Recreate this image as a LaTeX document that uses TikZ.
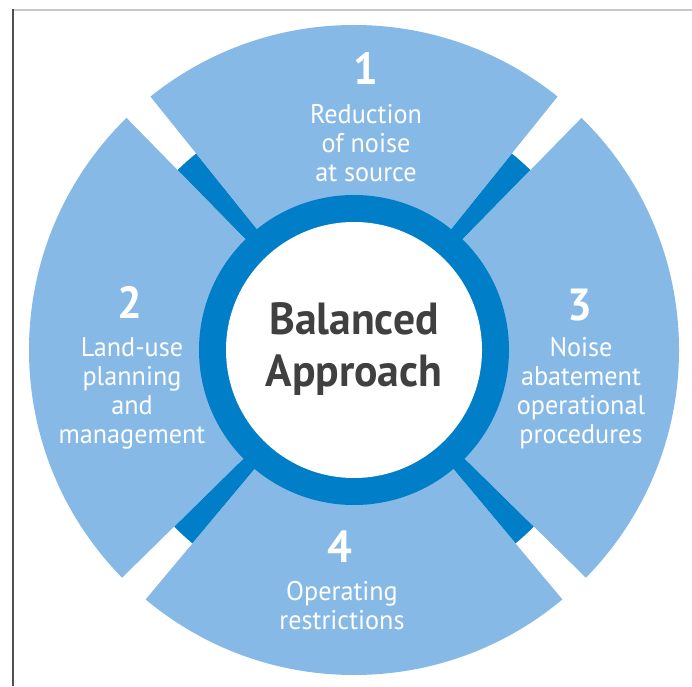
\documentclass[tikz,border=0pt]{standalone}
\usepackage{fontspec}
\newfontfamily\labfont[FakeStretch=0.97]{PT Sans}
\definecolor{petal}{RGB}{134,185,230}
\definecolor{ringblue}{RGB}{0,126,199}
\definecolor{ctext}{RGB}{64,64,64}
\definecolor{topline}{RGB}{200,200,200}
\definecolor{sideline}{RGB}{80,80,80}
\begin{document}
\begin{tikzpicture}[x=1pt,y=1pt,
  num/.style={text=white, font=\labfont\bfseries\fontsize{45}{45}\selectfont, inner sep=0pt},
  lab/.style={text=white, font=\labfont\fontsize{27}{29}\selectfont, align=center, inner sep=0pt},
  ctr/.style={text=ctext, font=\labfont\bfseries\fontsize{45}{52}\selectfont, align=center, inner sep=0pt}]
\useasboundingbox (0,0) rectangle (692,686);
\fill[white] (0,0) rectangle (692,686);
\draw[topline, line width=1.5pt] (12,676) -- (692,676);
\draw[sideline, line width=2pt] (12.5,677) -- (12.5,0);
\coordinate (c) at (354,336);
\fill[petal] (c) circle[radius=325];
\foreach \a in {48.4,131.6,227.3,312.7}{
  \pgfmathsetmacro{\lo}{\a-2.8}
  \pgfmathsetmacro{\hi}{\a+2.8}
  \fill[white] (c) -- ++(\lo:340) arc[start angle=\lo, end angle=\hi, radius=340] -- cycle;
  \fill[ringblue] (c) -- ++(\lo:252) arc[start angle=\lo, end angle=\hi, radius=252] -- cycle;
}
\fill[ringblue] (c) circle[radius=155];
\fill[white] (c) circle[radius=128];
\node[num] (n1) at (366,618) {1};
\node[lab] (t1) at (366,542.5) {Reduction\\of noise\\at source};
\node[num] (n2) at (130,384) {2};
\node[lab] (t2) at (132,292.5) {Land-use\\planning\\and\\management};
\node[num] (n3) at (580,381) {3};
\node[lab] (t3) at (581,292.5) {Noise\\abatement\\operational\\procedures};
\node[num] (n4) at (340,139) {4};
\node[lab] (t4) at (342,80) {Operating\\restrictions};
\node[ctr] (bal) at (354,337) {Balanced\\Approach};
\end{tikzpicture}
\end{document}
